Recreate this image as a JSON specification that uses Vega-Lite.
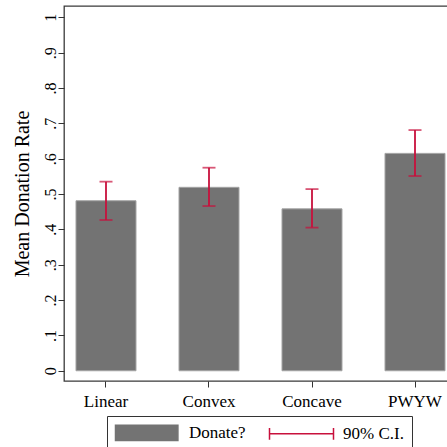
{
  "$schema": "https://vega.github.io/schema/vega-lite/v6.json",
  "autosize": {"type": "none"},
  "padding": {"left": 64, "top": 6, "right": 0, "bottom": 66},
  "width": 384,
  "height": 375,
  "background": "white",
  "config": {
    "font": "Liberation Serif",
    "view": {"stroke": "#3a3a3a", "strokeWidth": 1.3},
    "axis": {"labelFont": "Liberation Serif", "titleFont": "Liberation Serif", "labelColor": "#000", "titleColor": "#000", "tickColor": "#333", "grid": false, "domain": false, "labelOverlap": false},
    "axisY": {"labelOverlap": false, "title": "Mean Donation Rate", "titleFontSize": 20, "titleFontWeight": "normal", "titlePadding": 10,
      "labelAngle": -90, "labelAlign": "center", "labelBaseline": "alphabetic", "labelFontSize": 16, "labelPadding": 3, "tickSize": 6},
    "legend": {
      "title": null, "orient": "none", "legendX": 43, "legendY": 410, "direction": "horizontal",
      "padding": 8, "strokeColor": "#333", "cornerRadius": 0,
      "labelFont": "Liberation Serif", "labelFontSize": 17, "labelColor": "#000",
      "symbolSize": 64, "labelOffset": 57, "columnPadding": 20
    }
  },
  "data": {"values": [
    {"treatment": "Linear", "mean": 0.481, "lo": 0.4265, "hi": 0.535},
    {"treatment": "Convex", "mean": 0.519, "lo": 0.466, "hi": 0.5745},
    {"treatment": "Concave", "mean": 0.458, "lo": 0.405, "hi": 0.514},
    {"treatment": "PWYW", "mean": 0.615, "lo": 0.551, "hi": 0.681}
  ]},
  "encoding": {
    "x": {"field": "treatment", "type": "nominal", "sort": null,
      "scale": {"range": [0, 393], "paddingInner": 0.4175, "paddingOuter": 0.1165},
      "axis": {"title": null, "labelAngle": 0, "labelFontSize": 17, "tickSize": 6, "labelPadding": 6, "labelBaseline": "top"}}
  },
  "layer": [
    {
      "mark": {"type": "bar", "stroke": "#a3a3a3", "strokeWidth": 1},
      "encoding": {
        "y": {"field": "mean", "type": "quantitative",
          "scale": {"domain": [-0.029, 1.032], "nice": false, "zero": false},
          "axis": {"title": "Mean Donation Rate", "labelOverlap": false,
            "values": [0, 0.1, 0.2, 0.3, 0.4, 0.5, 0.6, 0.7, 0.8, 0.9, 1],
            "labelExpr": "datum.value == 0 ? '0' : (datum.value == 1 ? '1' : replace(format(datum.value, '.1f'), '0.', '.'))"}},
        "y2": {"datum": 0},
        "color": {"datum": "Donate?", "type": "nominal",
          "scale": {"domain": ["Donate?", "90% C.I."], "range": ["#737373", "#c8103c"]},
          "legend": {
            "encode": {"symbols": {"update": {
              "shape": [{"test": "datum.value === 'Donate?'", "value": "M-2,-1.9H13.6V1.9H-2Z"}, {"value": "M-2,-1.45V1.45M-2,0H14M14,-1.45V1.45"}],
              "fill": [{"test": "datum.value === 'Donate?'", "value": "#737373"}, {"value": "transparent"}],
              "stroke": [{"test": "datum.value === 'Donate?'", "value": "#a3a3a3"}, {"value": "#c8103c"}],
              "strokeWidth": {"value": 1.5}
            }}}
          }}
      }
    },
    {
      "mark": {"type": "rule", "strokeWidth": 1.8},
      "encoding": {
        "y": {"field": "lo", "type": "quantitative",
          "axis": {"title": "Mean Donation Rate", "labelOverlap": false,
            "values": [0, 0.1, 0.2, 0.3, 0.4, 0.5, 0.6, 0.7, 0.8, 0.9, 1],
            "labelExpr": "datum.value == 0 ? '0' : (datum.value == 1 ? '1' : replace(format(datum.value, '.1f'), '0.', '.'))"}},
        "y2": {"field": "hi"},
        "color": {"datum": "90% C.I.", "type": "nominal",
          "legend": {
            "encode": {"symbols": {"update": {
              "shape": [{"test": "datum.value === 'Donate?'", "value": "M-2,-1.9H13.6V1.9H-2Z"}, {"value": "M-2,-1.45V1.45M-2,0H14M14,-1.45V1.45"}],
              "fill": [{"test": "datum.value === 'Donate?'", "value": "#737373"}, {"value": "transparent"}],
              "stroke": [{"test": "datum.value === 'Donate?'", "value": "#a3a3a3"}, {"value": "#c8103c"}],
              "strokeWidth": {"value": 1.5}
            }}}
          }}
      }
    },
    {
      "mark": {"type": "tick", "size": 13, "thickness": 1.8},
      "encoding": {
        "y": {"field": "lo", "type": "quantitative",
          "axis": {"title": "Mean Donation Rate", "labelOverlap": false,
            "values": [0, 0.1, 0.2, 0.3, 0.4, 0.5, 0.6, 0.7, 0.8, 0.9, 1],
            "labelExpr": "datum.value == 0 ? '0' : (datum.value == 1 ? '1' : replace(format(datum.value, '.1f'), '0.', '.'))"}},
        "color": {"datum": "90% C.I.", "type": "nominal"}
      }
    },
    {
      "mark": {"type": "tick", "size": 13, "thickness": 1.8},
      "encoding": {
        "y": {"field": "hi", "type": "quantitative",
          "axis": {"title": "Mean Donation Rate", "labelOverlap": false,
            "values": [0, 0.1, 0.2, 0.3, 0.4, 0.5, 0.6, 0.7, 0.8, 0.9, 1],
            "labelExpr": "datum.value == 0 ? '0' : (datum.value == 1 ? '1' : replace(format(datum.value, '.1f'), '0.', '.'))"}},
        "color": {"datum": "90% C.I.", "type": "nominal"}
      }
    }
  ]
}
